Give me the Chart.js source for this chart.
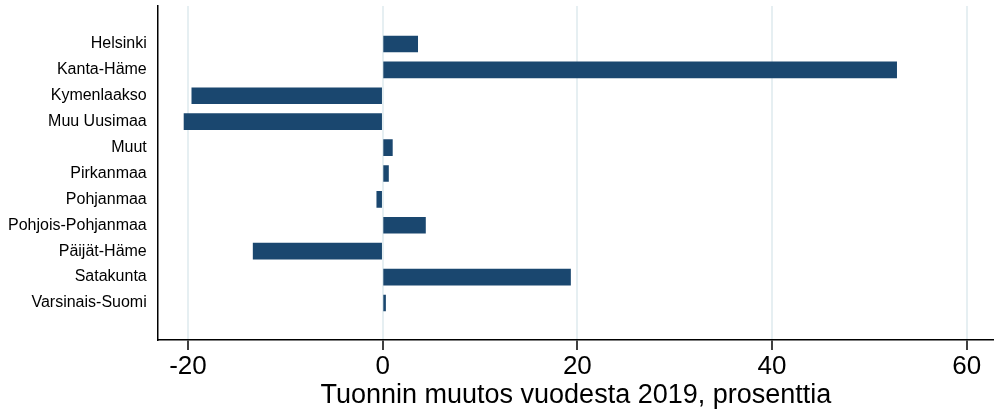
<!DOCTYPE html>
<html>
<head>
<meta charset="utf-8">
<script src="https://cdn.jsdelivr.net/npm/chart.js@4"></script>
<style>
body { margin: 0; background: #fff; }
#wrap { width: 994px; height: 410px; }
</style>
</head>
<body>
<div id="wrap"><canvas id="myChart"></canvas></div>
<script>
// regions (top to bottom) and change in imports vs 2019, percent
var regions = ['Helsinki', 'Kanta-Häme', 'Kymenlaakso', 'Muu Uusimaa', 'Muut', 'Pirkanmaa',
    'Pohjanmaa', 'Pohjois-Pohjanmaa', 'Päijät-Häme', 'Satakunta', 'Varsinais-Suomi'];
var changes = [3.6, 52.8, -19.6, -20.4, 1.0, 0.6, -0.6, 4.4, -13.3, 19.3, 0.3];
var xTicks = [-20, 0, 20, 40, 60];

var font = "Arial, 'Liberation Sans', sans-serif";

var data = {
    datasets: [{
        data: regions.map(function (r, i) { return { x: changes[i], y: i }; }),
        backgroundColor: '#1a476f',
        borderWidth: 0,
        barThickness: 16
    }]
};

var ctx = document.getElementById('myChart').getContext('2d');
var myChart = new Chart(ctx, {
    type: 'bar',
    data: data,
    options: {
        indexAxis: 'y',
        responsive: true,
        maintainAspectRatio: false,
        animation: false,
        layout: { padding: { top: 6, right: 0, left: 8, bottom: 0 } },
        plugins: { legend: { display: false }, tooltip: { enabled: false } },
        scales: {
            x: {
                type: 'linear',
                min: -23.1,
                max: 62.8,
                afterBuildTicks: function (axis) {
                    axis.ticks = xTicks.map(function (v) { return { value: v }; });
                },
                afterFit: function (axis) {
                    axis.height = 70;
                    axis.paddingLeft = 0;
                    axis.paddingRight = 0;
                },
                grid: {
                    color: '#e6eff2',
                    lineWidth: 2,
                    drawTicks: true,
                    tickLength: 10,
                    tickColor: '#000',
                    tickWidth: 1.5
                },
                border: { display: true, color: '#000', width: 1.5 },
                ticks: {
                    color: '#000',
                    font: { family: font, size: 26, lineHeight: 1 },
                    padding: 4,
                    maxRotation: 0
                },
                title: {
                    display: true,
                    text: 'Tuonnin muutos vuodesta 2019, prosenttia',
                    color: '#000',
                    font: { family: font, size: 27, lineHeight: 1 },
                    padding: { top: 0, bottom: 1 }
                }
            },
            y: {
                type: 'linear',
                reverse: true,
                offset: false,
                min: -1.467,
                max: 11.43,
                afterBuildTicks: function (axis) {
                    axis.ticks = regions.map(function (r, i) { return { value: i }; });
                },
                afterFit: function (axis) {
                    axis.width -= 11;
                    axis.paddingTop = 0;
                    axis.paddingBottom = 0;
                },
                grid: { display: false, drawTicks: false, offset: false },
                border: { display: true, color: '#000', width: 1.5 },
                ticks: {
                    color: '#000',
                    autoSkip: false,
                    font: { family: font, size: 16 },
                    padding: 11,
                    callback: function (v) { return regions[v]; }
                }
            }
        }
    }
});
</script>
</body>
</html>
